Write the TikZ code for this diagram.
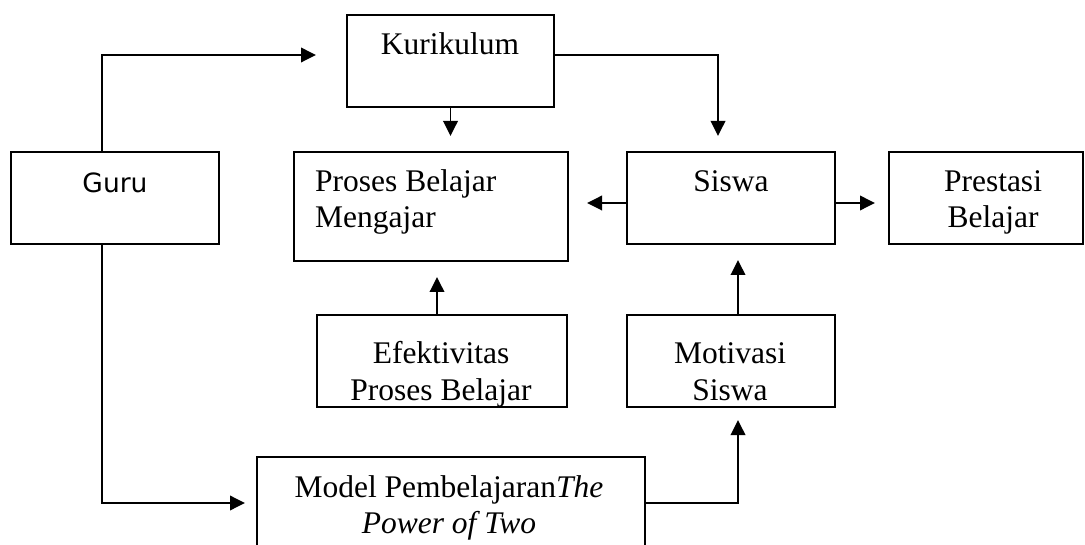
\documentclass[tikz,border=0pt]{standalone}
\usepackage{fontspec}
\setmainfont{Liberation Serif}
\newfontfamily\gurufont{DejaVu Sans}
\usetikzlibrary{arrows.meta,calc}
\newcommand{\twoc}[2]{\begin{tabular}[t]{@{}c@{}}#1\\#2\end{tabular}}
\newcommand{\twol}[2]{\begin{tabular}[t]{@{}l@{}}#1\\#2\end{tabular}}
\begin{document}
\begin{tikzpicture}[x=1pt,y=-1pt,
  box/.style={draw, rectangle, line width=1.9pt, inner sep=0pt},
  txt/.style={inner sep=0pt, anchor=base, font=\fontsize{31.5}{36}\selectfont},
  arr/.style={-{Triangle[length=15pt,width=14.5pt]}, line width=1.9pt}]
\useasboundingbox (0,0) rectangle (1085,545);
\clip (0,0) rectangle (1085,545);
% boxes
\node[box, minimum width=207pt, minimum height=92pt] (kur) at (450.5,61) {};
\node[box, minimum width=208pt, minimum height=92pt] (guru) at (115,198) {};
\node[box, minimum width=274pt, minimum height=109pt] (pbm) at (431,206.5) {};
\node[box, minimum width=208pt, minimum height=92pt] (siswa) at (731,198) {};
\node[box, minimum width=194pt, minimum height=92pt] (prest) at (986,198) {};
\node[box, minimum width=250pt, minimum height=92pt] (efek) at (442,361) {};
\node[box, minimum width=208pt, minimum height=92pt] (motiv) at (731,361) {};
\node[box, minimum width=388pt, minimum height=143pt] (model) at (451,528.5) {};
% texts
\node[txt] (kurT) at (450,55) {Kurikulum};
\node[txt, font=\gurufont\fontsize{26.5}{32}\selectfont] (guruT) at (115,193) {Guru};
\node[txt, anchor=base west] (pbmT) at (315,192) {\twol{Proses Belajar}{Mengajar}};
\node[txt] (siswaT) at (731,192) {Siswa};
\node[txt] (prestT) at (993,192) {\twoc{Prestasi}{Belajar}};
\node[txt] (efekT) at (441,364) {\twoc{Efektivitas}{Proses Belajar}};
\node[txt] (motivT) at (730,364) {\twoc{Motivasi}{Siswa}};
\node[txt] (modelT) at (449,497) {\twoc{Model Pembelajaran\textit{The}}{\textit{Power of Two}}};
% connectors
\coordinate (gk) at (102,55);
\coordinate (kt) at (316,55);
\draw[arr] (gk |- guru.north) -- (gk) -- (kt);
\coordinate (ks) at (718,136);
\draw[arr] (kur.east |- kt) -| (ks);
\draw[arr] (kur.south) -- (kur.south |- ks);
\coordinate (sl) at (587,203);
\draw[arr] (siswa.west |- sl) -- (sl);
\coordinate (sr) at (875,203);
\draw[arr] (siswa.east |- sr) -- (sr);
\coordinate (ep) at (437,277);
\draw[arr] (efek.north -| ep) -- (ep);
\coordinate (ms) at (738,260);
\draw[arr] (motiv.north -| ms) -- (ms);
\coordinate (gm) at (245,503);
\draw[arr] (guru.south -| gk) |- (gm);
\coordinate (mm) at (738,420);
\draw[arr] (model.east |- gm) -| (mm);
\end{tikzpicture}
\end{document}
